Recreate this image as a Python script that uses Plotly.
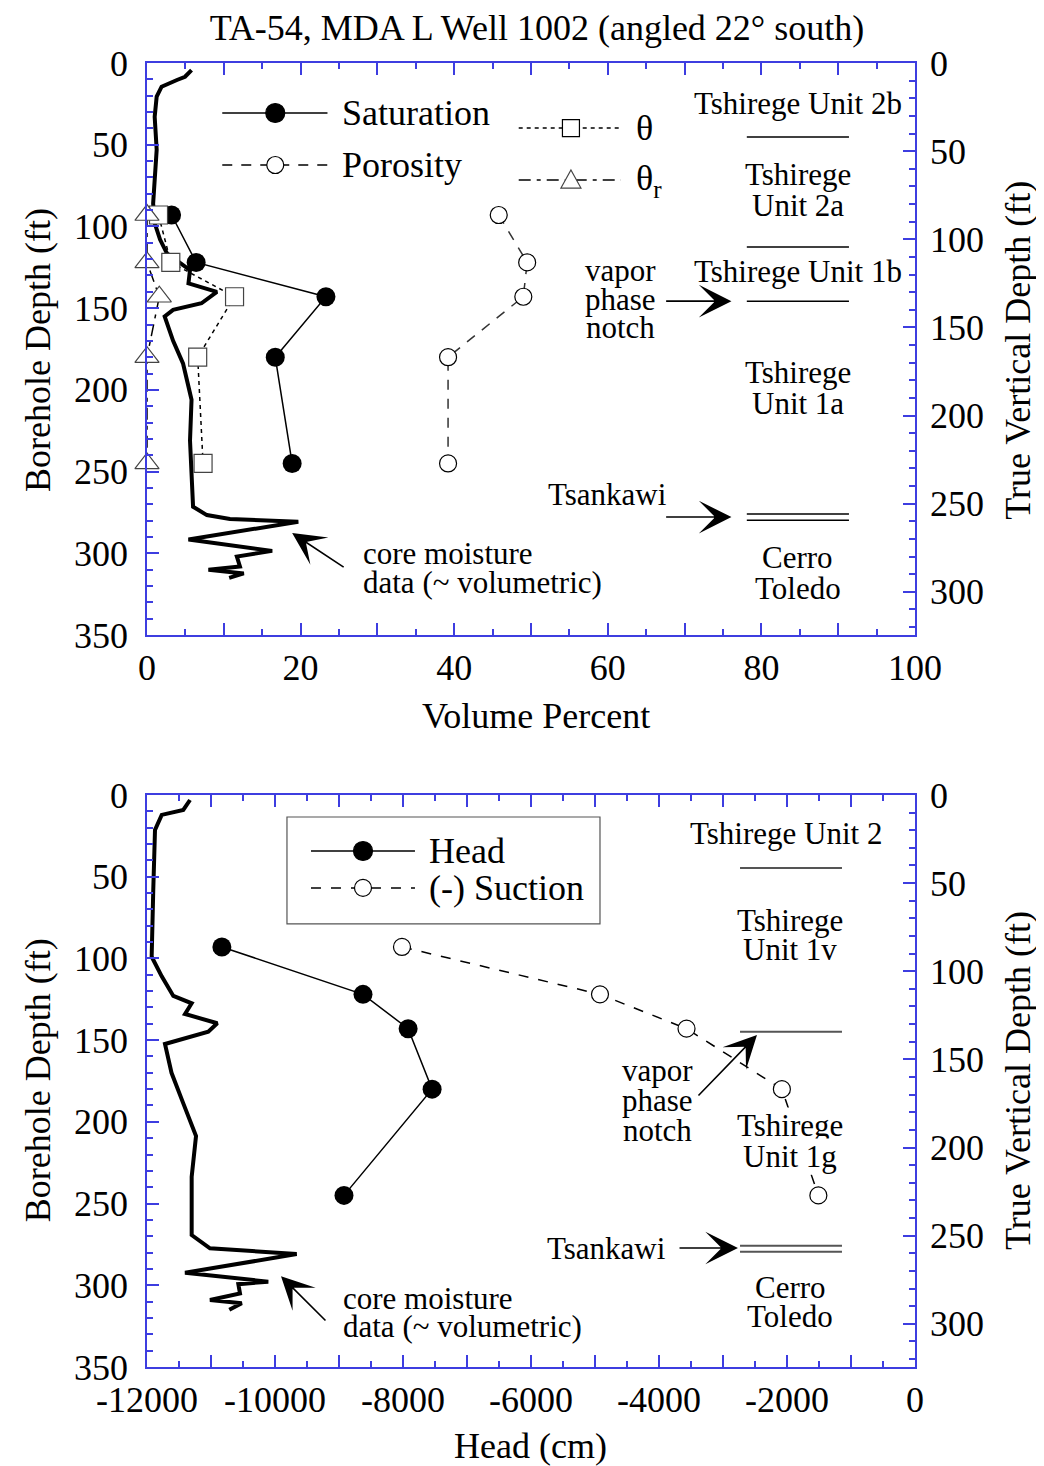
import math
import plotly.graph_objects as go

# sample depths (ft, along borehole)
sample_depth = [93, 122, 143, 180, 245]
saturation = [3.2, 6.4, 23.3, 16.7, 18.9]
porosity = [45.8, 49.5, 49.0, 39.2, 39.2]
theta = [1.5, 3.1, 11.4, 6.6, 7.3]
theta_r = [0.0, 0.0, 1.6, 0.0, 0.0]
head = [-10830, -8625, -7920, -7545, -8922]
suction = [-8016, -4922, -3570, -2080, -1510]

# core moisture trace, top panel (volume %)
core_depth = [4.3, 8.4, 10.4, 14.5, 20.6, 32.9, 53, 73.5, 86, 98, 108, 116.5, 126.7, 134.8,
              140, 147, 151, 155, 170, 184, 206, 231, 255, 271.5, 276.6, 279, 280.7, 291.5,
              298.5, 302, 308, 310, 312.3, 315]
core_vol = [5.8, 4.95, 3.9, 1.9, 1.26, 1.0, 1.26, 1.0, 0.8, 1.0, 1.7, 2.6, 5.6, 5.4,
            9.1, 7.1, 3.4, 2.3, 3.4, 4.7, 5.8, 5.6, 5.8, 6.0, 7.8, 10.8, 19.7, 5.4,
            16.3, 11.7, 12.1, 8.0, 12.6, 10.7]

# core moisture trace, bottom panel (rescaled onto head axis)
core_h_depth = [3.1, 9.2, 12.2, 21.4, 58, 99, 111, 123, 127.5, 134, 139.7, 144.9, 152.4, 170,
                188.7, 208.7, 233.6, 269.3, 277.4, 280.9, 292.3, 297.8, 299.3, 305, 309, 311, 315]
core_h = [-11328, -11433, -11770, -11875, -11902, -11927, -11770, -11589, -11302, -11406,
          -10902, -11042, -11719, -11617, -11433, -11234, -11302, -11302, -11016, -9661,
          -11406, -10105, -10573, -10547, -11016, -10520, -10714]

vol_ticks = list(range(0, 101, 10))
vol_labels = [str(v) if v % 20 == 0 else "" for v in vol_ticks]
head_ticks = list(range(-12000, 1, 1000))
head_labels = [str(v) if v % 2000 == 0 else "" for v in head_ticks]

MAX_DEPTH = 350
TVD_MAX = MAX_DEPTH * math.cos(math.radians(22))

BLUE = "#3d3de0"
FONT = "Liberation Serif"
W, H = 1036, 1458  # page body has an 8px margin

fig = go.Figure()

# ---- top panel
fig.add_trace(go.Scatter(x=core_vol, y=core_depth, mode="lines",
                         line=dict(color="black", width=4), xaxis="x", yaxis="y"))
fig.add_trace(go.Scatter(x=saturation, y=sample_depth, mode="lines+markers",
                         line=dict(color="black", width=1.5),
                         marker=dict(symbol="circle", size=19, color="black"),
                         xaxis="x", yaxis="y"))
fig.add_trace(go.Scatter(x=porosity, y=sample_depth, mode="lines+markers",
                         line=dict(color="#333333", width=1.5, dash="10px,9px"),
                         marker=dict(symbol="circle", size=17, color="white",
                                     line=dict(color="black", width=1.2)),
                         xaxis="x", yaxis="y"))
fig.add_trace(go.Scatter(x=theta, y=sample_depth, mode="lines+markers",
                         line=dict(color="black", width=1.5, dash="4px,4px"),
                         marker=dict(symbol="square", size=18, color="white",
                                     line=dict(color="#444444", width=1.2)),
                         xaxis="x", yaxis="y", cliponaxis=False))
fig.add_trace(go.Scatter(x=theta_r, y=sample_depth, mode="lines+markers",
                         line=dict(color="black", width=1.5, dash="12px,6px,4px,6px"),
                         marker=dict(symbol="triangle-up", size=21, color="white",
                                     line=dict(color="#444444", width=1.2)),
                         xaxis="x", yaxis="y", cliponaxis=False))
fig.add_trace(go.Scatter(x=[None], y=[None], xaxis="x", yaxis="y2", hoverinfo="skip"))

# ---- bottom panel
fig.add_trace(go.Scatter(x=core_h, y=core_h_depth, mode="lines",
                         line=dict(color="black", width=4), xaxis="x2", yaxis="y3"))
fig.add_trace(go.Scatter(x=head, y=sample_depth, mode="lines+markers",
                         line=dict(color="black", width=1.5),
                         marker=dict(symbol="circle", size=19, color="black"),
                         xaxis="x2", yaxis="y3"))
fig.add_trace(go.Scatter(x=suction, y=sample_depth, mode="lines+markers",
                         line=dict(color="black", width=1.5, dash="10px,10px"),
                         marker=dict(symbol="circle", size=17, color="white",
                                     line=dict(color="black", width=1.2)),
                         xaxis="x2", yaxis="y3"))
fig.add_trace(go.Scatter(x=[None], y=[None], xaxis="x2", yaxis="y4", hoverinfo="skip"))


def ax(**kw):
    base = dict(showline=True, linecolor=BLUE, linewidth=1.5, ticks="inside",
                tickcolor=BLUE, tickwidth=1.5, ticklen=12, showgrid=False, zeroline=False,
                tickfont=dict(family=FONT, size=36, color="black"),
                minor=dict(ticks="inside", ticklen=6, tickcolor=BLUE, tickwidth=1.5,
                           showgrid=False))
    minor = kw.pop("minor", {})
    base["minor"].update(minor)
    base.update(kw)
    return base


top = [0.5613, 1.0]
bot = [0.0, 0.4387]

fig.update_layout(
    width=W, height=H,
    margin=dict(l=139, r=129, t=55, b=99),
    paper_bgcolor="white", plot_bgcolor="white",
    showlegend=False,
    font=dict(family=FONT, color="black"),
    title=dict(text="TA-54, MDA L Well 1002 (angled 22° south)", x=(537 - 8) / W,
               xanchor="center", y=1 - 19 / H, yanchor="middle",
               font=dict(family=FONT, size=36, color="black")),
    xaxis=ax(domain=[0, 1], anchor="y", range=[0, 100], tickmode="array",
             tickvals=vol_ticks, ticktext=vol_labels, mirror="ticks",
             ticklabelstandoff=0, minor=dict(tick0=0, dtick=5)),
    yaxis=ax(domain=top, anchor="x", range=[MAX_DEPTH, 0], dtick=50,
             ticklabelstandoff=10, minor=dict(tick0=0, dtick=10)),
    yaxis2=ax(overlaying="y", side="right", anchor="x", range=[TVD_MAX, 0], dtick=50,
              ticklabelstandoff=6, minor=dict(tick0=0, dtick=10)),
    xaxis2=ax(domain=[0, 1], anchor="y3", range=[-12000, 0], tickmode="array",
              tickvals=head_ticks, ticktext=head_labels, mirror="ticks",
              ticklabelstandoff=0, minor=dict(tick0=0, dtick=500)),
    yaxis3=ax(domain=bot, anchor="x2", range=[MAX_DEPTH, 0], dtick=50,
              ticklabelstandoff=10, minor=dict(tick0=0, dtick=10)),
    yaxis4=ax(overlaying="y3", side="right", anchor="x2", range=[TVD_MAX, 0], dtick=50,
              ticklabelstandoff=6, minor=dict(tick0=0, dtick=10)),
)

# axis titles
for text, x, y, ang in [
    ("Volume Percent", 0.5065, 0.4992, 0),
    ("Head (cm)", 0.4987, -0.0606, 0),
    ("Borehole Depth (ft)", -0.1419, 0.78, -90),
    ("Borehole Depth (ft)", -0.1419, 0.22, -90),
    ("True Vertical Depth (ft)", 1.134, 0.78, -90),
    ("True Vertical Depth (ft)", 1.134, 0.22, -90),
]:
    fig.add_annotation(text=text, x=x, y=y, xref="paper", yref="paper", showarrow=False,
                       textangle=ang, xanchor="center", yanchor="middle",
                       font=dict(family=FONT, size=36, color="black"))


def label(lines, x, y, xr, yr, dy=18.4, size=31, xanchor="center", bg=None):
    for i, t in enumerate(lines):
        fig.add_annotation(text=t, x=x, y=y + i * dy, xref=xr, yref=yr, showarrow=False,
                           xanchor=xanchor, yanchor="middle", bgcolor=bg, borderpad=0,
                           font=dict(family=FONT, size=size, color="black"))


def arrow(x, y, tx, ty, xr, yr):
    fig.add_annotation(x=x, y=y, ax=tx, ay=ty, xref=xr, yref=yr, axref=xr, ayref=yr,
                       text="", showarrow=True, arrowhead=3, arrowsize=3.4,
                       arrowwidth=1.6, arrowcolor="black", standoff=0)


def hline(x0, x1, y, xr, yr, color="black", width=1.5):
    fig.add_shape(type="line", x0=x0, x1=x1, y0=y, y1=y, xref=xr, yref=yr,
                  line=dict(color=color, width=width))


def glyph(kind, x, y, xr, yr, fill):
    if kind == "path":
        fig.add_shape(type="path", path="M -10,-8 L 10,-8 L 0,10 Z", xref=xr, yref=yr,
                      xsizemode="pixel", ysizemode="pixel", xanchor=x, yanchor=y,
                      fillcolor=fill, line=dict(color="#444444", width=1.2))
    else:
        r = 9.5 if fill == "black" else 8.5
        fig.add_shape(type=kind, x0=-r, x1=r, y0=-r, y1=r, xref=xr, yref=yr,
                      xsizemode="pixel", ysizemode="pixel", xanchor=x, yanchor=y,
                      fillcolor=fill, line=dict(color="black", width=1.2))


def legend_line(x0, x1, y, xr, yr, dash):
    fig.add_shape(type="line", x0=x0, x1=x1, y0=y, y1=y, xref=xr, yref=yr,
                  line=dict(color="black", width=1.5, dash=dash))


# ---- top legend
legend_line(9.8, 23.5, 30.6, "x", "y", "solid")
glyph("circle", 16.7, 30.6, "x", "y", "black")
legend_line(9.8, 23.5, 62.4, "x", "y", "10px,9px")
glyph("circle", 16.7, 62.4, "x", "y", "white")
label(["Saturation"], 25.2, 30.6, "x", "y", size=36, xanchor="left")
label(["Porosity"], 25.2, 62.4, "x", "y", size=36, xanchor="left")
legend_line(48.4, 61.7, 39.8, "x", "y", "4px,4px")
glyph("rect", 55.2, 39.8, "x", "y", "white")
legend_line(48.4, 61.7, 71.6, "x", "y", "12px,6px,4px,6px")
glyph("path", 55.2, 71.6, "x", "y", "white")
label(["θ"], 63.5, 39.8, "x", "y", size=36, xanchor="left")
label(["θ<sub>r</sub>"], 63.5, 71.6, "x", "y", size=36, xanchor="left")

# ---- top geology
hline(78.1, 91.4, 45.3, "x", "y")
hline(78.1, 91.4, 112.6, "x", "y")
hline(78.1, 91.4, 145.7, "x", "y")
hline(78.1, 91.4, 276.0, "x", "y")
hline(78.1, 91.4, 279.7, "x", "y")
label(["Tshirege Unit 2b"], 84.7, 24.5, "x", "y")
label(["Tshirege", "Unit 2a"], 84.7, 68.5, "x", "y", dy=18.4)
label(["Tshirege Unit 1b"], 84.7, 127.3, "x", "y")
label(["vapor", "phase", "notch"], 61.7, 126.7, "x", "y", dy=17.7)
label(["Tshirege", "Unit 1a"], 84.7, 189.1, "x", "y", dy=19)
label(["Tsankawi"], 67.8, 263.8, "x", "y", xanchor="right")
label(["Cerro", "Toledo"], 84.7, 302.3, "x", "y", dy=19)
label(["core moisture", "data (~ volumetric)"], 28.0, 299.9, "x", "y", dy=17.7,
      xanchor="left")
arrow(76.1, 145.7, 67.4, 145.7, "x", "y")
arrow(76.1, 277.8, 67.4, 277.8, "x", "y")
arrow(18.9, 287.6, 25.8, 309.0, "x", "y")

# ---- bottom legend
fig.add_shape(type="rect", x0=-9813, x1=-4922, y0=13.5, y1=78.9, xref="x2", yref="y3",
              line=dict(color="#555555", width=1.2))
legend_line(-9438, -7813, 34.3, "x2", "y3", "solid")
glyph("circle", -8625, 34.3, "x2", "y3", "black")
legend_line(-9438, -7813, 56.9, "x2", "y3", "10px,10px")
glyph("circle", -8625, 56.9, "x2", "y3", "white")
label(["Head"], -7609, 34.3, "x2", "y3", size=36, xanchor="left")
label(["(-) Suction"], -7609, 56.9, "x2", "y3", size=36, xanchor="left")

# ---- bottom geology
for d in [44.7, 144.9, 275.8, 279.5]:
    hline(-2734, -1141, d, "x2", "y3", color="#555555", width=2)
label(["Tshirege Unit 2"], -2016, 23.3, "x2", "y3")
label(["Tshirege", "Unit 1v"], -1953, 77.1, "x2", "y3", dy=17.7)
label(["vapor", "phase", "notch"], -4016, 168.3, "x2", "y3", dy=18.4)
label(["Tshirege", "Unit 1g"], -1953, 202.0, "x2", "y3", dy=19, bg="white")
label(["Tsankawi"], -3875, 277.2, "x2", "y3", xanchor="right")
label(["Cerro", "Toledo"], -1953, 301.1, "x2", "y3", dy=17.7)
label(["core moisture", "data (~ volumetric)"], -8953, 307.8, "x2", "y3", dy=17.7,
      xanchor="left")
arrow(-2469, 146.9, -3406, 184.8, "x2", "y3")
arrow(-2766, 277.2, -3703, 277.2, "x2", "y3")
arrow(-9906, 294.4, -9188, 322.5, "x2", "y3")

fig.write_html("out.html")
